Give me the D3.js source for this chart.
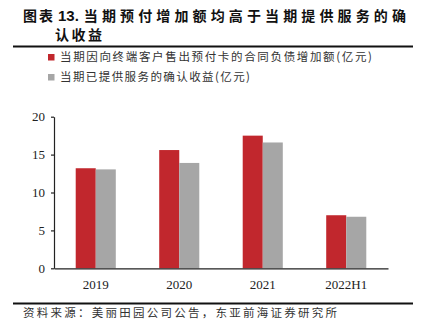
<!DOCTYPE html>
<html>
<head>
<meta charset="utf-8">
<script src="https://cdn.jsdelivr.net/npm/d3@7"></script>
<style>
  html, body { margin: 0; padding: 0; background: #fff; }
  svg { display: block; }
</style>
</head>
<body>
<svg id="chart" width="423" height="325"></svg>
<script>
// Chart data
const categories = ["2019", "2020", "2021", "2022H1"];
const seriesNames = [
  "当期因向终端客户售出预付卡的合同负债增加额(亿元)",
  "当期已提供服务的确认收益(亿元)"
];
const prepaidIncrease = [13.2, 15.6, 17.5, 7.0];
const recognizedRevenue = [13.05, 13.9, 16.6, 6.8];
const yTicks = [0, 5, 10, 15, 20];
const seriesColors = ["#C1272D", "#A6A6A6"];

const titleLabel = "图表";
const titleNumber = "13.";
const titleLine1 = "当期预付增加额均高于当期提供服务的确";
const titleLine2 = "认收益";
const sourceText = "资料来源：美丽田园公司公告，东亚前海证券研究所";

const rows = categories.map((c, i) => ({ cat: c, vals: [prepaidIncrease[i], recognizedRevenue[i]] }));

const svg = d3.select("#chart");
const cjk = "'Noto Sans CJK SC', 'Noto Sans', sans-serif";
const serif = "'Liberation Serif', 'DejaVu Serif', serif";
const latin = "'Liberation Sans', Arial, sans-serif";

// Title: label, figure number and heading placed one after another
const title = svg.append("g")
  .attr("font-weight", 700).attr("font-size", 14).attr("fill", "#111");
const lbl = title.append("text").attr("x", 23).attr("y", 21)
  .attr("font-family", cjk).attr("letter-spacing", 2)
  .text(titleLabel);
const numX = 23 + lbl.node().getComputedTextLength() + 3;
const num = title.append("text").attr("x", numX).attr("y", 21)
  .attr("font-family", latin).attr("font-size", 15)
  .text(titleNumber);
const headX = Math.max(63, numX + num.node().getComputedTextLength() + 5);
title.append("text").attr("x", headX).attr("y", 21)
  .attr("font-family", cjk).attr("textLength", 406 - headX).attr("lengthAdjust", "spacing")
  .text(titleLine1);
title.append("text").attr("x", 55).attr("y", 39.5)
  .attr("font-family", cjk).attr("textLength", 47).attr("lengthAdjust", "spacing")
  .text(titleLine2);

// Header and footer rules
svg.append("line").attr("x1", 13).attr("x2", 413).attr("y1", 46.5).attr("y2", 46.5)
  .attr("stroke", "#111").attr("stroke-width", 2);
svg.append("line").attr("x1", 13).attr("x2", 413).attr("y1", 303.5).attr("y2", 303.5)
  .attr("stroke", "#111").attr("stroke-width", 2);

// Legend
const legendLengths = [312, 190];
const legend = svg.append("g");
seriesNames.forEach((name, i) => {
  const yy = 54 + i * 20;
  legend.append("rect").attr("x", 48).attr("y", yy).attr("width", 6.5).attr("height", 6.5)
    .attr("fill", seriesColors[i]);
  legend.append("text")
    .attr("x", 60).attr("y", yy + 7)
    .attr("font-family", cjk).attr("font-size", 11.5).attr("fill", "#333")
    .attr("textLength", legendLengths[i]).attr("lengthAdjust", "spacing")
    .text(name);
});

// Scales
const x0 = d3.scaleBand().domain(categories).range([54, 388])
  .paddingInner(0.52).paddingOuter(0.26);
const x1 = d3.scaleBand().domain([0, 1]).range([0, x0.bandwidth()]);
const y = d3.scaleLinear().domain([0, 20]).range([268.3, 116.7]);

// Bars
svg.append("g").selectAll("g")
  .data(rows)
  .join("g")
  .attr("transform", d => `translate(${x0(d.cat)},0)`)
  .selectAll("rect")
  .data(d => d.vals.map((v, i) => ({ v, i })))
  .join("rect")
  .attr("x", d => x1(d.i))
  .attr("width", x1.bandwidth())
  .attr("y", d => y(d.v))
  .attr("height", d => y(0) - y(d.v))
  .attr("fill", d => seriesColors[d.i]);

// Y axis
const yAxis = svg.append("g").attr("transform", "translate(54,0)")
  .call(d3.axisLeft(y).tickValues(yTicks).tickSize(3).tickPadding(6).tickSizeOuter(0));
yAxis.select(".domain").attr("stroke", "#222").attr("stroke-width", 1.2);
yAxis.selectAll(".tick line").attr("stroke", "#222").attr("stroke-width", 1.2);
yAxis.selectAll("text").attr("font-family", serif).attr("font-size", 13).attr("fill", "#222");

// X axis
const xAxis = svg.append("g").attr("transform", `translate(0,${y(0)})`)
  .call(d3.axisBottom(x0).tickSize(0).tickPadding(11).tickSizeOuter(0));
xAxis.select(".domain").attr("stroke", "#222").attr("stroke-width", 1.2);
xAxis.selectAll("text").attr("font-family", serif).attr("font-size", 13).attr("fill", "#222");

// Source note
svg.append("text")
  .attr("x", 23).attr("y", 317)
  .attr("font-family", cjk).attr("font-size", 11.5).attr("fill", "#333")
  .attr("textLength", 314).attr("lengthAdjust", "spacing")
  .text(sourceText);
</script>
</body>
</html>
